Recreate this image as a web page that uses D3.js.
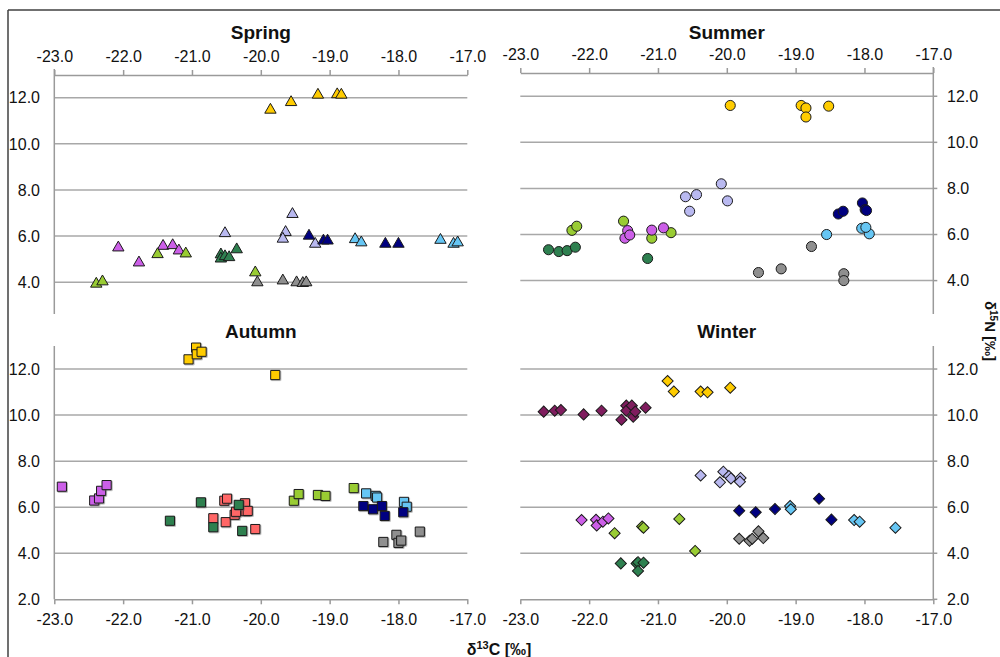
<!DOCTYPE html>
<html>
<head>
<meta charset="utf-8">
<script src="https://cdn.jsdelivr.net/npm/d3@7"></script>
<style>
  html, body { margin: 0; padding: 0; background: #fff; }
  svg { display: block; font-family: "Liberation Sans", Arial, sans-serif; }
</style>
</head>
<body>
<svg id="chart" width="1000" height="657"></svg>
<script>
// ---------------- DATA ----------------
const xTicks = [-23, -22, -21, -20, -19, -18, -17];
const yTicks = [2, 4, 6, 8, 10, 12];
const seasons = ["Spring", "Summer", "Autumn", "Winter"];
const groups = ["yellow", "magenta", "lightgreen", "darkgreen", "lavender", "navy", "lightblue", "gray", "salmon", "maroon"];
const groupColors = ["#FFCC00", "#CC5FE8", "#99CC33", "#2E8050", "#B9B9F0", "#000080", "#66C6F4", "#8F8F8F", "#FF6666", "#7F1D5E"];

// rows: [group, d13C, d15N]
const springData = [
  ["yellow", -19.86, 11.47], ["yellow", -19.56, 11.80], ["yellow", -19.17, 12.12], ["yellow", -18.89, 12.14], ["yellow", -18.83, 12.12],
  ["lavender", -20.52, 6.12], ["lavender", -19.54, 6.95], ["lavender", -19.64, 6.17], ["lavender", -19.68, 5.88], ["lavender", -19.21, 5.66],
  ["navy", -19.30, 6.01], ["navy", -19.09, 5.80], ["navy", -19.03, 5.80], ["navy", -18.19, 5.66], ["navy", -18.00, 5.66],
  ["lightblue", -18.63, 5.86], ["lightblue", -18.54, 5.72], ["lightblue", -17.39, 5.83], ["lightblue", -17.20, 5.66], ["lightblue", -17.14, 5.72],
  ["magenta", -22.07, 5.50], ["magenta", -21.77, 4.85], ["magenta", -21.42, 5.57], ["magenta", -21.28, 5.60], ["magenta", -21.19, 5.37],
  ["lightgreen", -22.39, 3.93], ["lightgreen", -22.30, 4.03], ["lightgreen", -21.50, 5.21], ["lightgreen", -21.09, 5.24], ["lightgreen", -20.08, 4.42],
  ["darkgreen", -20.58, 5.20], ["darkgreen", -20.58, 5.02], ["darkgreen", -20.52, 5.12], ["darkgreen", -20.46, 5.08], ["darkgreen", -20.35, 5.42],
  ["gray", -20.05, 3.99], ["gray", -19.68, 4.07], ["gray", -19.48, 3.99], ["gray", -19.39, 3.96], ["gray", -19.34, 3.99]
];

const summerData = [
  ["yellow", -19.95, 11.60], ["yellow", -18.92, 11.60], ["yellow", -18.85, 11.49], ["yellow", -18.85, 11.10], ["yellow", -18.52, 11.57],
  ["lavender", -20.60, 7.64], ["lavender", -20.44, 7.73], ["lavender", -20.54, 7.01], ["lavender", -20.08, 8.20], ["lavender", -19.99, 7.46],
  ["navy", -18.38, 6.89], ["navy", -18.31, 7.01], ["navy", -18.03, 7.37], ["navy", -17.99, 7.08], ["navy", -17.97, 7.04],
  ["lightblue", -18.55, 6.00], ["lightblue", -18.04, 6.27], ["lightblue", -17.93, 6.03], ["lightblue", -17.98, 6.31],
  ["gray", -18.77, 5.48], ["gray", -19.54, 4.35], ["gray", -19.21, 4.51], ["gray", -18.30, 4.30], ["gray", -18.30, 4.00],
  ["darkgreen", -22.59, 5.34], ["darkgreen", -22.44, 5.26], ["darkgreen", -22.32, 5.30], ["darkgreen", -22.20, 5.45], ["darkgreen", -21.15, 4.96],
  ["lightgreen", -22.25, 6.18], ["lightgreen", -22.18, 6.36], ["lightgreen", -21.50, 6.58], ["lightgreen", -21.09, 5.84], ["lightgreen", -20.81, 6.08],
  ["magenta", -21.44, 6.17], ["magenta", -21.48, 5.84], ["magenta", -21.41, 5.98], ["magenta", -21.09, 6.19], ["magenta", -20.92, 6.29]
];

const autumnData = [
  ["yellow", -21.05, 12.42], ["yellow", -20.94, 12.93], ["yellow", -20.93, 12.64], ["yellow", -20.86, 12.75], ["yellow", -19.79, 11.74],
  ["magenta", -22.89, 6.89], ["magenta", -22.42, 6.29], ["magenta", -22.35, 6.38], ["magenta", -22.32, 6.71], ["magenta", -22.24, 6.96],
  ["salmon", -20.69, 5.52], ["salmon", -20.51, 5.35], ["salmon", -20.53, 6.28], ["salmon", -20.49, 6.37], ["salmon", -20.38, 5.67],
  ["salmon", -20.36, 5.80], ["salmon", -20.23, 6.17], ["salmon", -20.22, 5.83], ["salmon", -20.19, 5.84], ["salmon", -20.08, 5.05],
  ["darkgreen", -21.32, 5.41], ["darkgreen", -20.87, 6.21], ["darkgreen", -20.69, 5.13], ["darkgreen", -20.32, 6.10], ["darkgreen", -20.27, 4.97],
  ["lightgreen", -19.52, 6.28], ["lightgreen", -19.45, 6.57], ["lightgreen", -19.17, 6.53], ["lightgreen", -19.06, 6.49], ["lightgreen", -18.65, 6.83],
  ["lightblue", -18.47, 6.60], ["lightblue", -18.33, 6.49], ["lightblue", -18.31, 6.42], ["lightblue", -17.92, 6.23], ["lightblue", -17.88, 6.02],
  ["navy", -18.51, 6.05], ["navy", -18.37, 5.91], ["navy", -18.24, 6.05], ["navy", -18.20, 5.62], ["navy", -17.93, 5.78],
  ["gray", -18.22, 4.49], ["gray", -18.03, 4.80], ["gray", -18.00, 4.45], ["gray", -17.96, 4.55], ["gray", -17.69, 4.94]
];

const winterData = [
  ["maroon", -22.66, 10.15], ["maroon", -22.50, 10.19], ["maroon", -22.41, 10.22], ["maroon", -22.08, 10.03], ["maroon", -21.82, 10.19],
  ["maroon", -21.53, 9.80], ["maroon", -21.46, 10.41], ["maroon", -21.46, 10.19], ["maroon", -21.38, 10.41], ["maroon", -21.36, 9.93],
  ["maroon", -21.33, 10.15], ["maroon", -21.18, 10.32],
  ["yellow", -20.86, 11.48], ["yellow", -20.77, 11.02], ["yellow", -20.38, 11.02], ["yellow", -20.28, 10.99], ["yellow", -19.95, 11.19],
  ["lavender", -20.38, 7.38], ["lavender", -20.05, 7.54], ["lavender", -19.97, 7.35], ["lavender", -19.94, 7.25], ["lavender", -20.10, 7.08],
  ["lavender", -19.80, 7.27], ["lavender", -19.81, 7.11],
  ["navy", -19.82, 5.85], ["navy", -19.58, 5.78], ["navy", -19.30, 5.92], ["navy", -18.66, 6.37], ["navy", -18.48, 5.46],
  ["lightblue", -19.08, 6.05], ["lightblue", -19.07, 5.91], ["lightblue", -18.15, 5.44], ["lightblue", -18.07, 5.37], ["lightblue", -17.55, 5.11],
  ["gray", -19.82, 4.63], ["gray", -19.67, 4.54], ["gray", -19.63, 4.63], ["gray", -19.54, 4.95], ["gray", -19.47, 4.66],
  ["magenta", -22.11, 5.44], ["magenta", -21.90, 5.45], ["magenta", -21.89, 5.21], ["magenta", -21.80, 5.37], ["magenta", -21.72, 5.51],
  ["lightgreen", -21.63, 4.87], ["lightgreen", -21.23, 5.16], ["lightgreen", -21.21, 5.11], ["lightgreen", -20.69, 5.49], ["lightgreen", -20.46, 4.10],
  ["darkgreen", -21.54, 3.56], ["darkgreen", -21.31, 3.55], ["darkgreen", -21.29, 3.61], ["darkgreen", -21.21, 3.59], ["darkgreen", -21.29, 3.23]
];

const xLabel = ["δ", "13", "C [‰]"];
const yLabel = ["δ", "15", "N [‰]"];

// ---------------- LAYOUT ----------------
const svg = d3.select("#chart");
const color = d3.scaleOrdinal().domain(groups).range(groupColors);
const fmt = d => d.toFixed(1);   // plain hyphen-minus, as in the reference

const panels = [
  { name: "Spring", data: springData, shape: "triangle", x0: 54.3, x1: 467.3, yTop: 74.6, yBot: 328.4, clipBot: 314, xAxis: "top", xAxisY: 75, xLabelY: 61.5, yAxis: "left", titleY: 38.5 },
  { name: "Summer", data: summerData, shape: "circle", x0: 520.3, x1: 933.3, yTop: 73.2, yBot: 326.7, clipBot: 314, xAxis: "top", xAxisY: 73, xLabelY: 59.5, yAxis: "right", titleY: 38.5 },
  { name: "Autumn", data: autumnData, shape: "square", x0: 54.3, x1: 467.3, yTop: 346, yBot: 599.3, clipBot: 602, xAxis: "bottom", xAxisY: 599.3, xLabelY: 625, yAxis: "left", titleY: 338 },
  { name: "Winter", data: winterData, shape: "diamond", x0: 520.3, x1: 933.3, yTop: 346, yBot: 599.3, clipBot: 602, xAxis: "bottom", xAxisY: 599.3, xLabelY: 625, yAxis: "right", titleY: 338 }
];

const defs = svg.append("defs");
const f = defs.append("filter").attr("id", "shadow").attr("x", "-50%").attr("y", "-50%").attr("width", "200%").attr("height", "200%");
f.append("feDropShadow").attr("dx", 0.8).attr("dy", 0.8).attr("stdDeviation", 0.7).attr("flood-color", "#555").attr("flood-opacity", 0.55);

const axisColor = "#9A9A9A";
const gridColor = "#A8A8A8";

panels.forEach(p => {
  const x = d3.scaleLinear().domain([-23, -17]).range([p.x0, p.x1]);
  const y = d3.scaleLinear().domain([2, 13]).range([p.yBot, p.yTop]);
  const g = svg.append("g");

  const visTicks = yTicks.filter(t => y(t) <= p.clipBot - 1);
  // gridlines
  g.selectAll("line.grid").data(visTicks.filter(t => !(p.xAxis === "bottom" && t === 2))).join("line")
    .attr("x1", p.x0).attr("x2", p.x1)
    .attr("y1", d => y(d)).attr("y2", d => y(d))
    .attr("stroke", gridColor).attr("stroke-width", 1.5);

  // y axis line
  const ax = p.yAxis === "left" ? p.x0 : p.x1;
  g.append("line").attr("x1", ax).attr("x2", ax)
    .attr("y1", p.xAxis === "top" ? p.xAxisY - 6 : y(13))
    .attr("y2", p.xAxis === "top" ? p.clipBot : p.xAxisY)
    .attr("stroke", axisColor).attr("stroke-width", 1.5);
  if (p.yAxis === "right") {
    g.selectAll("line.ytick").data(visTicks).join("line")
      .attr("x1", ax).attr("x2", ax + 4)
      .attr("y1", d => y(d)).attr("y2", d => y(d))
      .attr("stroke", axisColor).attr("stroke-width", 1.5);
  }
  // y tick labels
  g.selectAll("text.ylab").data(visTicks).join("text")
    .attr("x", p.yAxis === "left" ? 40 : 947)
    .attr("y", d => y(d)).attr("dy", "0.36em")
    .attr("text-anchor", p.yAxis === "left" ? "end" : "start")
    .attr("font-size", 16).attr("fill", "#111")
    .text(d => fmt(d));

  // x axis
  const xa = (p.xAxis === "top" ? d3.axisTop(x) : d3.axisBottom(x))
    .tickValues(xTicks).tickSize(5).tickFormat(fmt).tickSizeOuter(0);
  const xg = g.append("g").attr("transform", `translate(0,${p.xAxisY})`).call(xa);
  xg.select(".domain").attr("stroke", axisColor).attr("stroke-width", 1.5);
  xg.selectAll(".tick line").attr("stroke", axisColor).attr("stroke-width", 1.5);
  xg.selectAll(".tick text")
    .attr("font-size", 16).attr("fill", "#111")
    .attr("font-family", "'Liberation Sans', Arial, sans-serif")
    .attr("y", null).attr("dy", null)
    .attr("transform", `translate(0,${p.xLabelY - p.xAxisY})`);

  // title
  g.append("text").attr("x", (p.x0 + p.x1) / 2).attr("y", p.titleY)
    .attr("text-anchor", "middle").attr("font-size", 19).attr("font-weight", "bold").attr("fill", "#111")
    .text(p.name);

  // markers
  let sym;
  if (p.shape === "triangle") sym = d3.symbol().type(d3.symbolTriangle).size(56);
  else if (p.shape === "circle") sym = d3.symbol().type(d3.symbolCircle).size(80);
  else if (p.shape === "square") sym = d3.symbol().type(d3.symbolSquare).size(84);
  else sym = d3.symbol().type(d3.symbolSquare).size(62);
  const rot = p.shape === "diamond" ? " rotate(45)" : "";

  g.append("g").selectAll("path").data(p.data).join("path")
    .attr("d", sym())
    .attr("transform", d => `translate(${x(d[1])},${y(d[2])})${rot}`)
    .attr("fill", d => color(d[0]))
    .attr("stroke", "#1a1a1a").attr("stroke-width", 1)
    .attr("filter", p.shape === "square" ? "url(#shadow)" : null);
});

// outer frame
svg.append("line").attr("x1", 8).attr("x2", 1000).attr("y1", 10).attr("y2", 10).attr("stroke", "#404040").attr("stroke-width", 1.5);
svg.append("line").attr("x1", 8).attr("x2", 8).attr("y1", 10).attr("y2", 657).attr("stroke", "#404040").attr("stroke-width", 1.5);

// axis titles
const xt = svg.append("text").attr("x", 499).attr("y", 655).attr("text-anchor", "middle")
  .attr("font-size", 16).attr("font-weight", "bold").attr("fill", "#111");
xt.append("tspan").text(xLabel[0]);
xt.append("tspan").attr("font-size", 11).attr("dy", -6).text(xLabel[1]);
xt.append("tspan").attr("dy", 6).text(xLabel[2]);

const yt = svg.append("text").attr("transform", "translate(985,331) rotate(90)").attr("text-anchor", "middle")
  .attr("font-size", 15).attr("font-weight", "bold").attr("fill", "#111");
yt.append("tspan").text(yLabel[0]);
yt.append("tspan").attr("font-size", 10).attr("dy", -5).text(yLabel[1]);
yt.append("tspan").attr("dy", 5).text(yLabel[2]);
</script>
</body>
</html>
